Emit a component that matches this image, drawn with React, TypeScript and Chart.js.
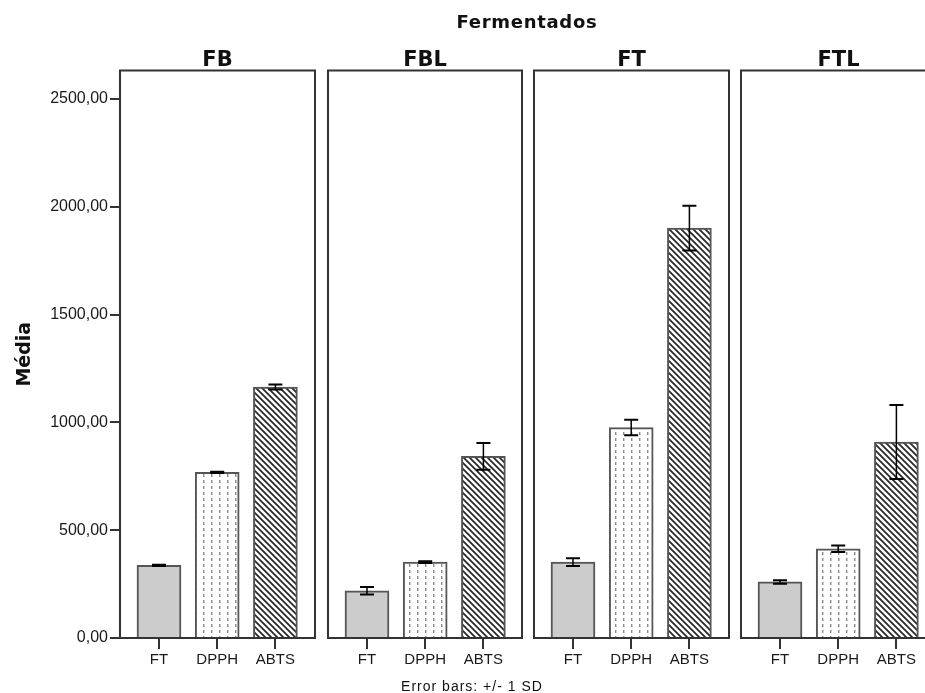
import React, { useEffect, useRef } from 'react';
import { Chart, registerables } from 'chart.js';

Chart.register(...registerables);

// ---- data ----
const categories = ['FT', 'DPPH', 'ABTS'];
const panelNames = ['FB', 'FBL', 'FT', 'FTL'];
const fbMeans = [337, 768, 1164];
const fbSD = [3, 3, 12];
const fblMeans = [219, 352, 842];
const fblSD = [17, 4, 62];
const ftMeans = [352, 976, 1901];
const ftSD = [18, 36, 104];
const ftlMeans = [260, 414, 909];
const ftlSD = [8, 15, 172];
const yTickValues = [0, 500, 1000, 1500, 2000, 2500];
const yMax = 2632;
const chartTitle = 'Fermentados';
const yTitle = 'Média';
const footnote = 'Error bars: +/- 1 SD';

const panelMeans = [fbMeans, fblMeans, ftMeans, ftlMeans];
const panelSD = [fbSD, fblSD, ftSD, ftlSD];

// ---- layout ----
const H = 693;
const panelLeft = [120, 328, 534, 741];
const panelRight = [315, 522, 729, 936];
const PAD = 10;
const Y_AXIS_W = 120;

const fmt = (v: number) => v.toFixed(2).replace('.', ',');

function makeDotPattern(ctx: CanvasRenderingContext2D) {
  const c = document.createElement('canvas');
  c.width = 8;
  c.height = 6;
  const g = c.getContext('2d')!;
  g.fillStyle = '#ffffff';
  g.fillRect(0, 0, 8, 6);
  g.fillStyle = '#8a8a8a';
  g.fillRect(3, 0, 1, 3);
  g.fillStyle = '#cfcfcf';
  g.fillRect(4, 0, 1, 3);
  return ctx.createPattern(c, 'repeat');
}

function makeHatchPattern(ctx: CanvasRenderingContext2D) {
  const s = 6;
  const c = document.createElement('canvas');
  c.width = s;
  c.height = s;
  const g = c.getContext('2d')!;
  g.fillStyle = '#ffffff';
  g.fillRect(0, 0, s, s);
  g.strokeStyle = '#2a2a2a';
  g.lineWidth = 1.8;
  g.beginPath();
  g.moveTo(-1, -1);
  g.lineTo(s + 1, s + 1);
  g.moveTo(-1, s - 1);
  g.lineTo(1, s + 1);
  g.moveTo(s - 1, -1);
  g.lineTo(s + 1, 1);
  g.stroke();
  return ctx.createPattern(c, 'repeat');
}

function Panel({ idx }: { idx: number }) {
  const ref = useRef<HTMLCanvasElement>(null);
  const first = idx === 0;
  const canvasLeft = first ? 0 : panelLeft[idx] - PAD;
  const canvasW = panelRight[idx] + PAD - canvasLeft;

  useEffect(() => {
    const canvas = ref.current!;
    const ctx = canvas.getContext('2d')!;
    const means = panelMeans[idx];
    const sds = panelSD[idx];
    const pw = panelRight[idx] - panelLeft[idx];
    const spacing = 58.2;
    const xMin = -39 / spacing;
    const xMax = xMin + pw / spacing;

    const decor = {
      id: 'panelDecor',
      afterDatasetsDraw(chart: any) {
        const { ctx: c, chartArea: a, scales } = chart;
        const xs = scales.x;
        const ys = scales.y;
        c.save();
        c.strokeStyle = '#333333';
        c.lineWidth = 2;
        c.strokeRect(a.left, a.top, a.right - a.left, a.bottom - a.top);
        c.strokeStyle = '#000';
        means.forEach((m, i) => {
          const cx = xs.getPixelForValue(i);
          const yt = ys.getPixelForValue(m + sds[i]);
          const yb = ys.getPixelForValue(m - sds[i]);
          c.lineWidth = 1.5;
          c.beginPath();
          c.moveTo(cx, yt);
          c.lineTo(cx, yb);
          c.stroke();
          c.lineWidth = 2;
          c.beginPath();
          c.moveTo(cx - 7, yt);
          c.lineTo(cx + 7, yt);
          c.moveTo(cx - 7, yb);
          c.lineTo(cx + 7, yb);
          c.stroke();
        });
        c.fillStyle = '#111';
        c.font = 'bold 21px "DejaVu Sans"';
        c.textAlign = 'center';
        c.textBaseline = 'alphabetic';
        c.fillText(panelNames[idx], (a.left + a.right) / 2, 66);
        c.restore();
      },
    };

    const chart = new Chart(canvas, {
      type: 'bar',
      data: {
        datasets: [
          {
            data: means.map((v, i) => ({ x: i, y: v })),
            backgroundColor: ['#cccccc', makeDotPattern(ctx) as any, makeHatchPattern(ctx) as any],
            borderColor: '#555555',
            borderWidth: 2,
            barThickness: 44,
          },
        ],
      },
      options: {
        animation: false,
        responsive: false,
        maintainAspectRatio: false,
        devicePixelRatio: 1,
        layout: { padding: { left: first ? 0 : PAD, right: PAD, top: 70.5, bottom: 0 } },
        plugins: { legend: { display: false }, tooltip: { enabled: false }, title: { display: false } },
        scales: {
          x: {
            type: 'linear',
            offset: false,
            min: xMin,
            max: xMax,
            afterBuildTicks: (s: any) => {
              s.ticks = categories.map((_, i) => ({ value: i }));
            },
            afterFit: (s: any) => {
              s.height = 55;
            },
            ticks: {
              autoSkip: false,
              maxRotation: 0,
              padding: 2,
              color: '#1a1a1a',
              font: { family: 'Liberation Sans', size: 15 },
              callback: (v: any) => categories[Math.round(Number(v))] ?? '',
            },
            grid: {
              display: true,
              offset: false,
              drawOnChartArea: false,
              drawTicks: true,
              tickLength: 11,
              color: '#333',
              lineWidth: 2,
            },
            border: { display: false },
          },
          y: {
            type: 'linear',
            display: first,
            min: 0,
            max: yMax,
            afterBuildTicks: (s: any) => {
              s.ticks = yTickValues.map((v) => ({ value: v }));
            },
            afterFit: (s: any) => {
              if (first) s.width = Y_AXIS_W;
            },
            ticks: {
              padding: 2,
              color: '#1a1a1a',
              font: { family: 'Liberation Sans', size: 16 },
              callback: (v: any) => fmt(Number(v)),
            },
            grid: { display: true, drawOnChartArea: false, drawTicks: true, tickLength: 10, color: '#333', lineWidth: 2 },
            border: { display: false },
            title: {
              display: first,
              text: yTitle,
              color: '#111',
              font: { family: 'DejaVu Sans', weight: 'bold', size: 19 },
              padding: { top: 14, bottom: 0 },
            },
          },
        },
      } as any,
      plugins: [decor],
    });
    return () => chart.destroy();
  }, [idx]);

  return (
    <canvas
      ref={ref}
      width={canvasW}
      height={H}
      style={{ position: 'absolute', left: canvasLeft, top: 0, width: canvasW, height: H }}
    />
  );
}

export default function App() {
  return (
    <div
      style={{
        position: 'absolute',
        left: 0,
        top: 0,
        width: 925,
        height: H,
        overflow: 'hidden',
        background: '#ffffff',
      }}
    >
      {panelNames.map((_, i) => (
        <Panel key={i} idx={i} />
      ))}
      <div
        style={{
          position: 'absolute',
          left: 327,
          width: 400,
          top: 11,
          textAlign: 'center',
          font: 'bold 18px "DejaVu Sans"',
          letterSpacing: '0.7px',
          lineHeight: '22px',
          color: '#111',
        }}
      >
        {chartTitle}
      </div>
      <div
        style={{
          position: 'absolute',
          left: 372,
          width: 200,
          top: 678,
          textAlign: 'center',
          font: '14px "Liberation Sans"',
          letterSpacing: '1px',
          lineHeight: '16px',
          color: '#111',
        }}
      >
        {footnote}
      </div>
    </div>
  );
}
